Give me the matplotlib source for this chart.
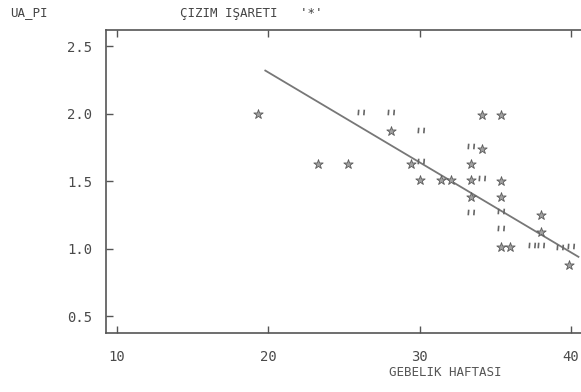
import matplotlib
matplotlib.use("Agg")
import matplotlib.pyplot as plt
from matplotlib.path import Path

# values (gestational week vs UA pulsatility index)
star_x = [19.3, 28.1, 34.1, 35.4, 34.1, 23.3, 25.3, 29.4, 33.4, 30.0, 31.4, 32.1,
          33.4, 35.4, 33.4, 35.4, 38.0, 38.0, 35.4, 36.0, 39.9]
star_y = [2.00, 1.87, 1.99, 1.99, 1.74, 1.63, 1.63, 1.63, 1.63, 1.51, 1.51, 1.51,
          1.51, 1.50, 1.38, 1.38, 1.25, 1.12, 1.01, 1.01, 0.88]

# '"' marks = repeated observations on the line printer
dup_x = [26.1, 28.1, 30.1, 33.4, 30.1, 34.1, 33.4, 35.4, 35.4, 37.4, 38.0, 39.3, 40.0]
dup_y = [2.01, 2.01, 1.88, 1.76, 1.65, 1.52, 1.27, 1.28, 1.15, 1.03, 1.03, 1.01, 1.02]

# regression line
fit_a = 3.64
fit_b = -0.0667
fit_x = [19.8, 40.5]

x_ticks = [10, 20, 30, 40]
y_ticks = [0.5, 1.0, 1.5, 2.0, 2.5]

ink = "#555555"
mono = "DejaVu Sans Mono"

# two short strokes, like the printer's "
quote = Path([(-0.6, 0.6), (-0.7, -0.6), (0.6, 0.6), (0.5, -0.6)],
             [Path.MOVETO, Path.LINETO, Path.MOVETO, Path.LINETO])

fig = plt.figure(figsize=(5.81, 3.92), dpi=100)
ax = fig.add_axes([106 / 581, 59 / 392, 480 / 581, 303 / 392])

ax.plot(fit_x, [fit_a + fit_b * x for x in fit_x], color="#777777", lw=1.3)
ax.scatter(star_x, star_y, marker="*", s=50, facecolor="#a0a0a0",
           edgecolor="#5a5a5a", linewidths=0.6, zorder=3)
ax.scatter(dup_x, dup_y, marker=quote, s=22, color="#666666",
           linewidths=1.2, zorder=3)

ax.set_xlim(9.27, 41.0)
ax.set_ylim(0.374, 2.62)
ax.set_xticks(x_ticks)
ax.set_yticks(y_ticks)
ax.set_yticklabels([f"{v:.1f}" for v in y_ticks])

for s in ax.spines.values():
    s.set_color(ink)
    s.set_linewidth(1.2)

ax.tick_params(axis="both", direction="in", colors=ink, length=5, width=1,
               labelsize=10, labelcolor="#4a4a4a")
ax.tick_params(axis="x", top=True, pad=12)
ax.tick_params(axis="y", pad=10)
for lab in ax.get_xticklabels() + ax.get_yticklabels():
    lab.set_family(mono)

fig.text(10 / 581, 1 - 13 / 392, "UA_PI", family=mono, fontsize=9,
         color="#444444", va="center")
fig.text(180 / 581, 1 - 13 / 392, "ÇIZIM IŞARETI   '*'", family=mono,
         fontsize=9, color="#444444", va="center")
fig.text(445 / 581, 1 - 372 / 392, "GEBELIK HAFTASI", family=mono,
         fontsize=9, color="#555555", va="center", ha="center")

fig.savefig("out.png", dpi=100)
